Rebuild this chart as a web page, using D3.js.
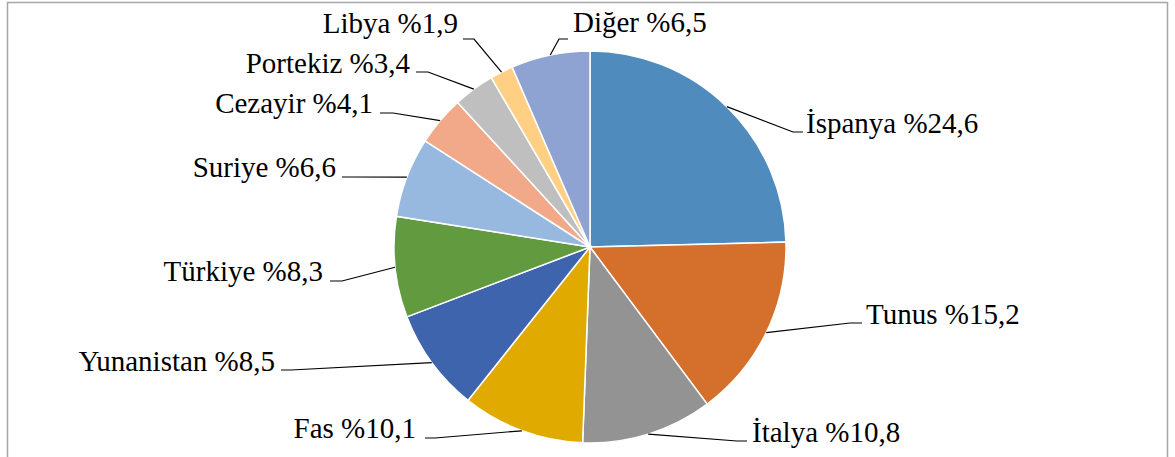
<!DOCTYPE html>
<html>
<head>
<meta charset="utf-8">
<script src="https://cdn.jsdelivr.net/npm/d3@7"></script>
<style>
  body { margin: 0; background: #fff; }
  #chart { width: 1175px; height: 457px; }
</style>
</head>
<body>
<div id="chart"></div>
<script>
// data (percent shares, clockwise from 12 o'clock)
const countries = ['İspanya', 'Tunus', 'İtalya', 'Fas', 'Yunanistan', 'Türkiye',
                   'Suriye', 'Cezayir', 'Portekiz', 'Libya', 'Diğer'];
const shares = [24.6, 15.2, 10.8, 10.1, 8.5, 8.3, 6.6, 4.1, 3.4, 1.9, 6.5];
const labels = ['%24,6', '%15,2', '%10,8', '%10,1', '%8,5', '%8,3',
                '%6,6', '%4,1', '%3,4', '%1,9', '%6,5'];
const colors = ['#4f8bbd', '#d4702b', '#939393', '#e1aa00', '#3d64ad', '#629b3f',
                '#97b9e0', '#f1a98a', '#bfbfbf', '#ffd083', '#8fa3d3'];

// where each label sits: leader elbow, leader end x, text x, baseline, anchor
const labelPos = [
    { elbow: [793, 132], endX: 803, tx: 806, ty: 133, anchor: 'start' },
    { elbow: [850, 323], endX: 862, tx: 866, ty: 324, anchor: 'start' },
    { elbow: [737, 441], endX: 747, tx: 752, ty: 442, anchor: 'start' },
    { elbow: [435, 438], endX: 425, tx: 416, ty: 438, anchor: 'end' },
    { elbow: [291, 370], endX: 281, tx: 275, ty: 371, anchor: 'end' },
    { elbow: [342, 281], endX: 330, tx: 323, ty: 281, anchor: 'end' },
    { elbow: [350, 177], endX: 342, tx: 336, ty: 177, anchor: 'end' },
    { elbow: [393, 113], endX: 380, tx: 373, ty: 113, anchor: 'end' },
    { elbow: [428, 72],  endX: 416, tx: 410, ty: 73,  anchor: 'end' },
    { elbow: [474, 39],  endX: 463, tx: 458, ty: 33,  anchor: 'end' },
    { elbow: [559, 39],  endX: 568, tx: 573, ty: 32,  anchor: 'start' }
];

const width = 1175;
const height = 457;
const cx = 590;
const cy = 247;
const radius = 196;

const svg = d3.select('#chart')
    .append('svg')
    .attr('width', width)
    .attr('height', height);

// chart frame
svg.append('rect')
    .attr('x', 7.5)
    .attr('y', 2.5)
    .attr('width', 1160)
    .attr('height', 470)
    .attr('fill', 'none')
    .attr('stroke', '#a6a6a6')
    .attr('stroke-width', 1.5);

const data = countries.map((c, i) => ({ name: c, value: shares[i], label: labels[i], color: colors[i], pos: labelPos[i] }));

const pie = d3.pie()
    .sort(null)
    .value(d => d.value);

const arc = d3.arc()
    .innerRadius(0)
    .outerRadius(radius);

const arcs = pie(data);

const g = svg.append('g')
    .attr('transform', `translate(${cx}, ${cy})`);

g.selectAll('path.slice')
    .data(arcs)
    .enter()
    .append('path')
        .attr('class', 'slice')
        .attr('d', arc)
        .attr('fill', d => d.data.color)
        .attr('stroke', '#fff')
        .attr('stroke-width', 1.5);

// leader lines start on the rim at the slice's middle angle
const rimPoint = d => {
    const a = (d.startAngle + d.endAngle) / 2;
    return [cx + radius * Math.sin(a), cy - radius * Math.cos(a)];
};

svg.append('g')
    .selectAll('path')
    .data(arcs)
    .enter()
    .append('path')
        .attr('fill', 'none')
        .attr('stroke', '#000')
        .attr('stroke-width', 1.2)
        .attr('d', d => d3.line()([rimPoint(d), d.data.pos.elbow, [d.data.pos.endX, d.data.pos.elbow[1]]]));

svg.append('g')
    .selectAll('text')
    .data(arcs)
    .enter()
    .append('text')
        .attr('x', d => d.data.pos.tx)
        .attr('y', d => d.data.pos.ty)
        .attr('text-anchor', d => d.data.pos.anchor)
        .style('font-family', 'Liberation Serif')
        .style('font-size', '29px')
        .style('fill', '#000')
        .text(d => `${d.data.name} ${d.data.label}`);
</script>
</body>
</html>
